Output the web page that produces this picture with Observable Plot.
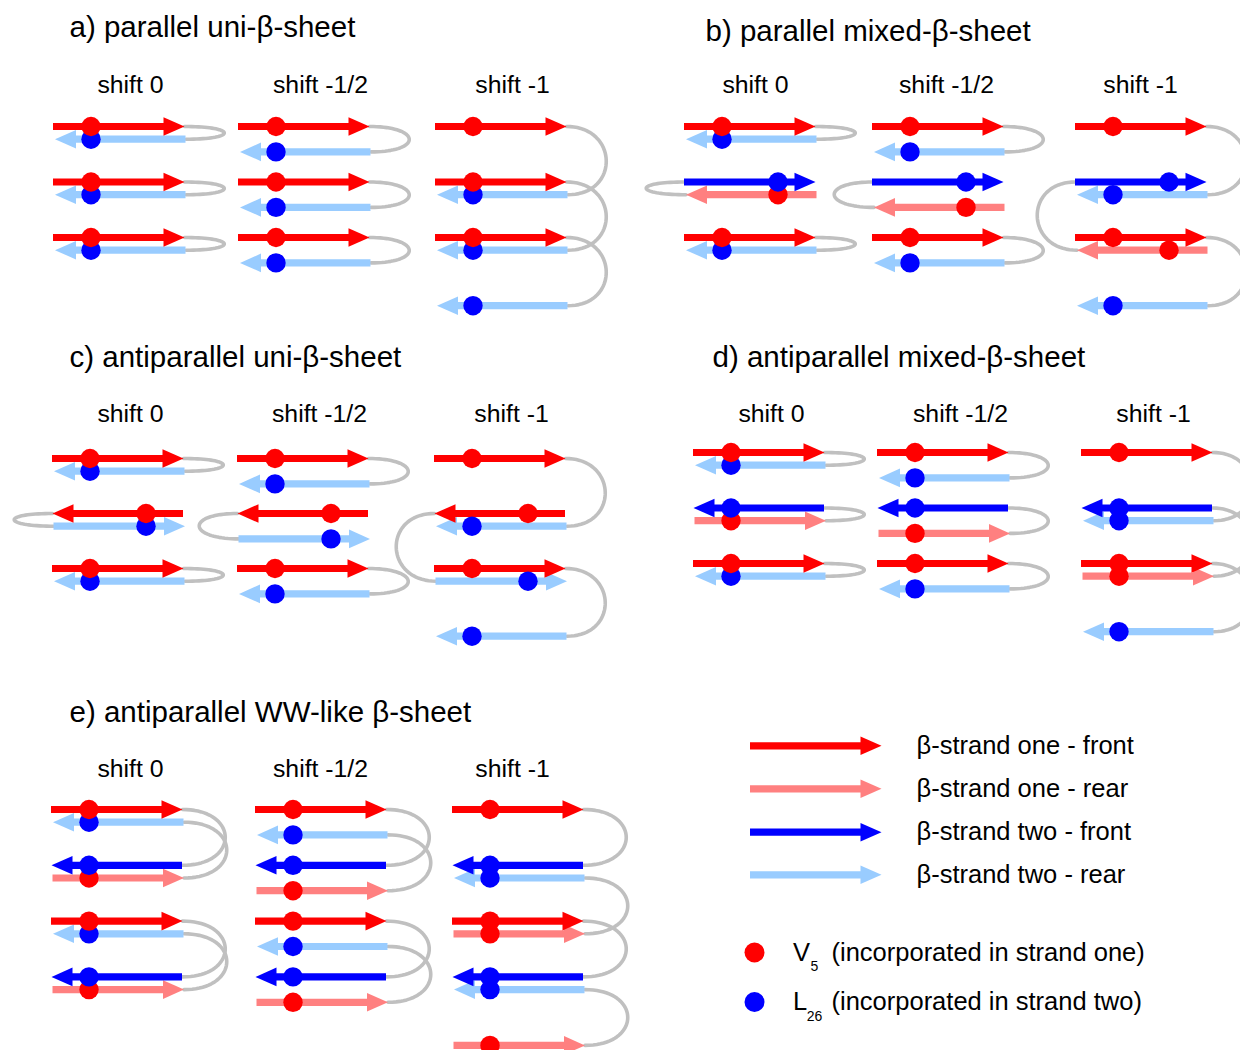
<!DOCTYPE html>
<html>
<head>
<meta charset="utf-8">
<script src="https://cdn.jsdelivr.net/npm/d3@7"></script>
<script src="https://cdn.jsdelivr.net/npm/@observablehq/plot@0.6"></script>
<style>
  html, body { margin: 0; padding: 0; background: #fff; overflow: hidden; }
</style>
</head>
<body>
<div id="chart"></div>
<script>
// ---- Content ---------------------------------------------------------------

const sheetTitles = [
  "a) parallel uni-β-sheet",
  "b) parallel mixed-β-sheet",
  "c) antiparallel uni-β-sheet",
  "d) antiparallel mixed-β-sheet",
  "e) antiparallel WW-like β-sheet"
];
const shiftLabels = ["shift 0", "shift -1/2", "shift -1"];

// Hairpins of each sheet:
// [shift column, strand one: row, sub-row, face, strand two: row, sub-row, face, direction of strand one]
const sheetA = [
  [0, 0, 0, "front", 0, 1, "rear", "right"],
  [0, 1, 0, "front", 1, 1, "rear", "right"],
  [0, 2, 0, "front", 2, 1, "rear", "right"],
  [1, 0, 0, "front", 0, 2, "rear", "right"],
  [1, 1, 0, "front", 1, 2, "rear", "right"],
  [1, 2, 0, "front", 2, 2, "rear", "right"],
  [2, 0, 0, "front", 1, 1, "rear", "right"],
  [2, 1, 0, "front", 2, 1, "rear", "right"],
  [2, 2, 0, "front", 3, 1, "rear", "right"]
];
const sheetB = [
  [0, 0, 0, "front", 0, 1, "rear", "right"],
  [0, 1, 1, "rear", 1, 0, "front", "left"],
  [0, 2, 0, "front", 2, 1, "rear", "right"],
  [1, 0, 0, "front", 0, 2, "rear", "right"],
  [1, 1, 2, "rear", 1, 0, "front", "left"],
  [1, 2, 0, "front", 2, 2, "rear", "right"],
  [2, 0, 0, "front", 1, 1, "rear", "right"],
  [2, 2, 1, "rear", 1, 0, "front", "left"],
  [2, 2, 0, "front", 3, 1, "rear", "right"]
];
const sheetC = [
  [0, 0, 0, "front", 0, 1, "rear", "right"],
  [0, 1, 0, "front", 1, 1, "rear", "left"],
  [0, 2, 0, "front", 2, 1, "rear", "right"],
  [1, 0, 0, "front", 0, 2, "rear", "right"],
  [1, 1, 0, "front", 1, 2, "rear", "left"],
  [1, 2, 0, "front", 2, 2, "rear", "right"],
  [2, 0, 0, "front", 1, 1, "rear", "right"],
  [2, 1, 0, "front", 2, 1, "rear", "left"],
  [2, 2, 0, "front", 3, 1, "rear", "right"]
];
const sheetD = [
  [0, 0, 0, "front", 0, 1, "rear", "right"],
  [0, 1, 1, "rear", 1, 0, "front", "right"],
  [0, 2, 0, "front", 2, 1, "rear", "right"],
  [1, 0, 0, "front", 0, 2, "rear", "right"],
  [1, 1, 2, "rear", 1, 0, "front", "right"],
  [1, 2, 0, "front", 2, 2, "rear", "right"],
  [2, 0, 0, "front", 1, 1, "rear", "right"],
  [2, 2, 1, "rear", 1, 0, "front", "right"],
  [2, 2, 0, "front", 3, 1, "rear", "right"]
];
const sheetE = [
  [0, 0, 0, "front", 1, 0, "front", "right"],
  [0, 1, 1, "rear", 0, 1, "rear", "right"],
  [0, 2, 0, "front", 3, 0, "front", "right"],
  [0, 3, 1, "rear", 2, 1, "rear", "right"],
  [1, 0, 0, "front", 1, 0, "front", "right"],
  [1, 1, 2, "rear", 0, 2, "rear", "right"],
  [1, 2, 0, "front", 3, 0, "front", "right"],
  [1, 3, 2, "rear", 2, 2, "rear", "right"],
  [2, 0, 0, "front", 1, 0, "front", "right"],
  [2, 2, 1, "rear", 1, 1, "rear", "right"],
  [2, 2, 0, "front", 3, 0, "front", "right"],
  [2, 4, 1, "rear", 3, 1, "rear", "right"]
];

// Legend entries
const strandKeys = [
  ["one", "front", "β-strand one - front"],
  ["one", "rear", "β-strand one - rear"],
  ["two", "front", "β-strand two - front"],
  ["two", "rear", "β-strand two - rear"]
];
const residueKeys = [
  ["one", "V", "5", "(incorporated in strand one)"],
  ["two", "L", "26", "(incorporated in strand two)"]
];

// ---- Styling and layout ----------------------------------------------------

const strandColors = {
  one: {front: "#ff0000", rear: "#ff8080"},
  two: {front: "#0000ff", rear: "#99ccff"}
};
const residueColors = {one: "#ff0000", two: "#0000ff"};
const loopColor = "#c0c0c0";

const LEN = 131, HEAD_L = 21, HEAD_W = 9.3, SHAFT = 7.2, DOT_R = 9.7, RES_OFF = 37.5, SUB = 12.7;
const TITLE_FS = 29.5, LABEL_FS = 24.8, LEGEND_FS = 25.5, SUB_FS = 14;

// Where each sheet sits on the page
const layout = [
  {cols: [53, 238, 435], y0: 126, step: 55.5, bulge: 52, title: [69, 36.7], labelX: [130, 320, 512], labelBase: 92.3},
  {cols: [684, 872, 1075], y0: 126, step: 55.5, bulge: 52, title: [705, 40], labelX: [755, 946, 1140], labelBase: 92.3},
  {cols: [52, 237, 434], y0: 458, step: 55, bulge: 52, title: [69, 366.7], labelX: [130, 319, 511], labelBase: 421},
  {cols: [693, 877, 1081], y0: 452, step: 55.5, bulge: 52, title: [712, 366.7], labelX: [771, 960, 1153], labelBase: 421},
  {cols: [51, 255, 452], y0: 809, step: 55.8, bulge: 57, title: [69, 721.3], labelX: [130, 320, 512], labelBase: 776.3}
];
const sheets = [sheetA, sheetB, sheetC, sheetD, sheetE];

// ---- Geometry --------------------------------------------------------------

const strands = [], residues = [], loopPts = [];

function makeStrand(strand, face, y, left, d) {
  const right = left + LEN;
  const tail = d > 0 ? left : right;
  const tip = d > 0 ? right : left;
  return {strand, face, y, tail, tip, d,
          shaftEnd: tip - d * (HEAD_L - 2),
          color: strandColors[strand][face]};
}

sheets.forEach((hairpins, si) => {
  const L = layout[si];
  hairpins.forEach(([col, r1, s1, f1, r2, s2, f2, dir], hi) => {
    const d1 = dir === "right" ? 1 : -1;
    const x0 = L.cols[col];
    const yOf = (row, sub) => L.y0 + row * L.step + sub * SUB;
    const one = makeStrand("one", f1, yOf(r1, s1), x0 + (f1 === "rear" ? 1.5 : 0), d1);
    const two = makeStrand("two", f2, yOf(r2, s2), x0 + (f2 === "rear" ? 1.5 : 0), -d1);
    strands.push(one, two);

    // V5 lies near the N-terminus of strand one, L26 near the C-terminus of strand two
    const rx = d1 > 0 ? x0 + RES_OFF : x0 + LEN - RES_OFF;
    residues.push({x: rx, y: one.y, face: one.face, color: residueColors.one});
    residues.push({x: rx, y: two.y, face: two.face, color: residueColors.two});

    // Turn from the end of strand one to the start of strand two (cubic Bézier)
    const xa = one.tip, ya = one.y, xb = two.tail, yb = two.y, k = L.bulge * d1;
    const id = `${si}-${hi}`;
    for (let i = 0; i <= 40; i++) {
      const t = i / 40, u = 1 - t;
      const x = u*u*u*xa + 3*u*u*t*(xa + k) + 3*u*t*t*(xb + k) + t*t*t*xb;
      const y = u*u*u*ya + 3*u*u*t*ya + 3*u*t*t*yb + t*t*t*yb;
      loopPts.push({id, x, y});
    }
  });
});

// Legend arrows
const legendX = 750, legendTextX = 916, legendY = [745.3, 788.3, 831.7, 874.3];
strandKeys.forEach(([strand, face], i) => {
  strands.push({...makeStrand(strand, face, legendY[i], legendX, 1), legend: true});
});

// Filled arrowhead pointing along +x with its tip at the origin
const arrowHead = {
  draw(ctx) {
    ctx.moveTo(0, 0);
    ctx.lineTo(-HEAD_L, -HEAD_W);
    ctx.lineTo(-HEAD_L, HEAD_W);
    ctx.closePath();
  }
};

const strandMarks = (data) => [
  Plot.ruleY(data, {y: "y", x1: "tail", x2: "shaftEnd", stroke: "color", strokeWidth: SHAFT}),
  Plot.dot(data, {x: "tip", y: "y", symbol: arrowHead, rotate: d => d.d > 0 ? 0 : 180,
                  fill: "color", stroke: "none"})
];

// ---- Text ------------------------------------------------------------------

const FONT = "'Liberation Sans', Arial, Helvetica, sans-serif";
const mid = (base, fs) => base - 0.32 * fs;

const titleRows = sheetTitles.map((text, i) => ({text, x: layout[i].title[0], y: mid(layout[i].title[1], TITLE_FS)}));
const labelRows = layout.flatMap(L => shiftLabels.map((text, j) => ({text, x: L.labelX[j], y: mid(L.labelBase, LABEL_FS)})));
const legendRows = strandKeys.map(([, , text], i) => ({text, x: legendTextX, y: legendY[i]}));

const residueY = [952, 1001.5];
const residueBase = [960, 1009.5];
const residueDots = residueKeys.map(([strand], i) => ({x: 754, y: residueY[i], color: residueColors[strand]}));
const residueMain = residueKeys.flatMap(([, letter, , text], i) => [
  {text: letter, x: 792.5, y: mid(residueBase[i], LEGEND_FS)},
  {text, x: 831, y: mid(residueBase[i], LEGEND_FS)}
]);
const residueSub = residueKeys.map(([, , num], i) => ({text: num, x: 814, y: mid(residueBase[i] + 10.5, SUB_FS)}));

// ---- Plot ------------------------------------------------------------------

const chart = Plot.plot({
  width: 1240,
  height: 1050,
  margin: 0,
  x: {domain: [0, 1240], range: [0, 1240], axis: null},
  y: {domain: [0, 1050], range: [0, 1050], axis: null},
  color: {type: "identity"},
  style: {fontFamily: FONT, background: "#fff"},
  marks: [
    Plot.line(loopPts, {x: "x", y: "y", z: "id", stroke: loopColor, strokeWidth: 3.6, curve: "linear"}),
    ...strandMarks(strands.filter(d => d.face === "rear")),
    ...strandMarks(strands.filter(d => d.face === "front")),
    Plot.dot(residues.filter(d => d.face === "rear"), {x: "x", y: "y", r: DOT_R, fill: "color", stroke: "none"}),
    Plot.dot(residues.filter(d => d.face === "front"), {x: "x", y: "y", r: DOT_R, fill: "color", stroke: "none"}),
    Plot.dot(residueDots, {x: "x", y: "y", r: 10, fill: "color", stroke: "none"}),
    Plot.text(titleRows, {x: "x", y: "y", text: "text", textAnchor: "start", lineAnchor: "middle", fontSize: TITLE_FS, fill: "#000"}),
    Plot.text(labelRows, {x: "x", y: "y", text: "text", textAnchor: "middle", lineAnchor: "middle", fontSize: LABEL_FS, fill: "#000"}),
    Plot.text(legendRows, {x: "x", y: "y", text: "text", textAnchor: "start", lineAnchor: "middle", fontSize: LEGEND_FS, fill: "#000"}),
    Plot.text(residueMain, {x: "x", y: "y", text: "text", textAnchor: "start", lineAnchor: "middle", fontSize: LEGEND_FS, fill: "#000"}),
    Plot.text(residueSub, {x: "x", y: "y", text: "text", textAnchor: "middle", lineAnchor: "middle", fontSize: SUB_FS, fill: "#000"})
  ]
});

document.getElementById("chart").appendChild(chart);
</script>
</body>
</html>
